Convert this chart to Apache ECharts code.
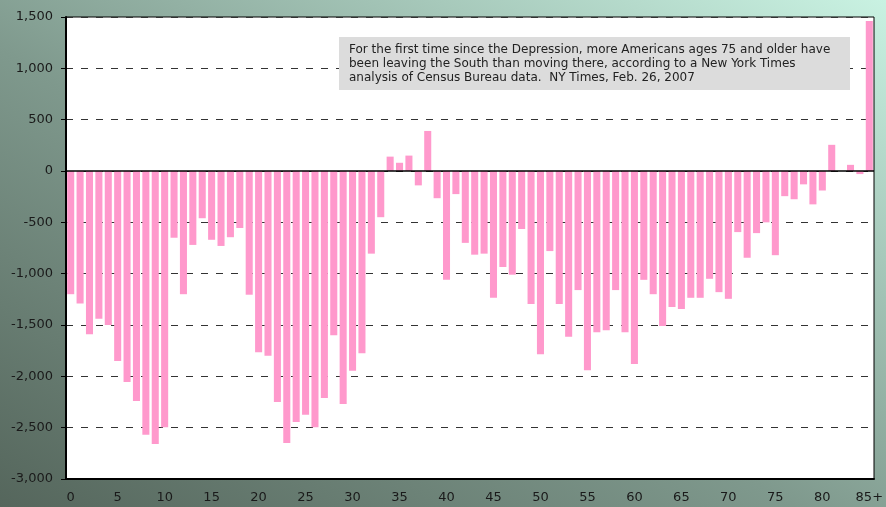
<!DOCTYPE html>
<html>
<head>
<meta charset="utf-8">
<script src="https://cdn.jsdelivr.net/npm/echarts@6/dist/echarts.min.js"></script>
<style>
  html, body { margin: 0; padding: 0; }
  #chart {
    width: 886px; height: 507px;
    background: linear-gradient(to top right, #55665c 0%, #7f998d 45%, #c9f2e2 100%);
  }
</style>
</head>
<body>
<div id="chart"></div>
<script>
// ages 0 .. 85+
const ages = []
for (let a = 0; a < 85; a++) ages.push(String(a))
ages.push('85+')

// net migration into the South, by age
const netMoves = [
  -1200, -1290, -1590, -1440, -1500, -1850, -2055, -2240, -2570, -2660,
  -2495, -650, -1200, -720, -460, -670, -730, -645, -555, -1205,
  -1765, -1800, -2250, -2650, -2445, -2375, -2495, -2210, -1600, -2270,
  -1945, -1775, -805, -450, 140, 80, 150, -140, 390, -265,
  -1060, -225, -700, -815, -805, -1235, -935, -1010, -565, -1295,
  -1785, -780, -1295, -1615, -1160, -1940, -1570, -1550, -1160, -1570,
  -1880, -1060, -1200, -1510, -1325, -1345, -1235, -1235, -1050, -1180,
  -1245, -595, -845, -605, -500, -820, -245, -275, -130, -325,
  -190, 255, 0, 60, -30, 1460
]

const yMin = -3000, yMax = 1500, yStep = 500

const note = [
  'For the first time since the Depression, more Americans ages 75 and older have',
  'been leaving the South than moving there, according to a New York Times',
  'analysis of Census Bureau data.  NY Times, Feb. 26, 2007'
]

const font = 'DejaVu Sans'
const chart = echarts.init(document.getElementById('chart'))
chart.setOption({
  backgroundColor: 'transparent',
  animation: false,
  textStyle: { fontFamily: font },
  grid: {
    left: 66, right: 12, top: 17, bottom: 28,
    outerBoundsMode: 'none',
    show: true, backgroundColor: '#fff', borderColor: '#000', borderWidth: 1
  },
  xAxis: {
    type: 'category',
    data: ages,
    axisLine: { onZero: false, lineStyle: { color: '#000', width: 2 } },
    axisTick: { show: false },
    axisLabel: { interval: 4, margin: 12, fontSize: 13, color: '#1a1a1a', fontFamily: font }
  },
  yAxis: {
    type: 'value',
    min: yMin, max: yMax, interval: yStep,
    axisLine: { show: true, lineStyle: { color: '#000', width: 2 } },
    axisTick: { show: true, length: 5, lineStyle: { color: '#000' } },
    axisLabel: {
      margin: 13, fontSize: 13, color: '#1a1a1a', fontFamily: font,
      formatter: v => v.toLocaleString('en-US')
    },
    splitLine: { lineStyle: { color: '#333', width: 1, type: [7, 8] } }
  },
  series: [{
    type: 'bar',
    data: netMoves,
    barCategoryGap: '25%',
    itemStyle: { color: '#ff99cc' },
    markLine: {
      silent: true, symbol: 'none', label: { show: false },
      lineStyle: { color: '#000', type: 'solid', width: 1.5 },
      data: [{ yAxis: 0 }]
    }
  }],
  graphic: [
    { type: 'rect', z: 100, left: 339, top: 37, shape: { width: 511, height: 53 }, style: { fill: '#dcdcdc' } },
    {
      type: 'text', z: 101, left: 349, top: 43,
      style: { text: note.join('\n'), font: '12px "DejaVu Sans"', lineHeight: 14, fill: '#222' }
    }
  ]
})
</script>
</body>
</html>
